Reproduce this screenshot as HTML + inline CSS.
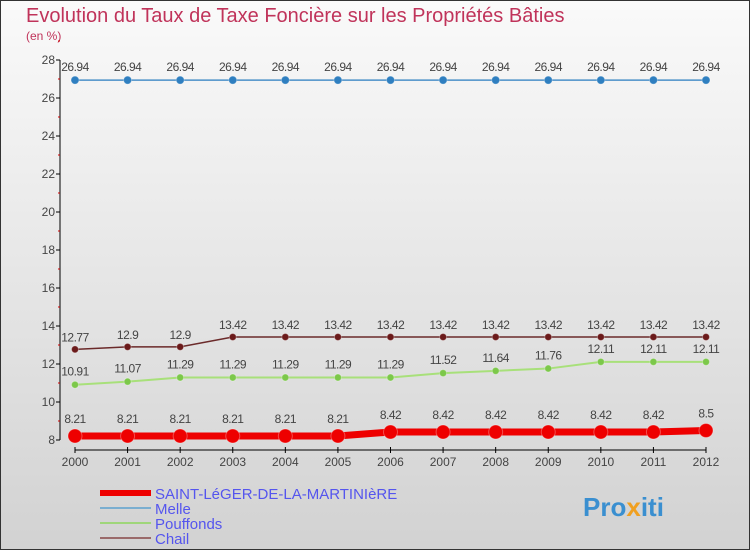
<!DOCTYPE html>
<html><head><meta charset="utf-8"><style>
body{margin:0}
#c{width:750px;height:550px;position:relative;overflow:hidden}
svg{font-family:"Liberation Sans",sans-serif}
</style></head><body>
<div id="c">
<svg id="s" width="750" height="550" xmlns="http://www.w3.org/2000/svg">
<defs><linearGradient id="bg" x1="0" y1="0" x2="0" y2="1"><stop offset="0" stop-color="#fafafa"/><stop offset="1" stop-color="#d2d2d2"/></linearGradient></defs>
<rect x="0.5" y="0.5" width="749" height="549" fill="url(#bg)" stroke="#333"/>
<text x="26" y="22" font-size="20" fill="#c0335a">Evolution du Taux de Taxe Foncière sur les Propriétés Bâties</text>
<text x="26" y="40" font-size="12" fill="#c0335a">(en %)</text>
<g id="axes"></g><g id="series"></g>
<g>
<line x1="100" y1="493" x2="151" y2="493" stroke="#e00" stroke-width="6"/>
<text x="155" y="499" font-size="15" fill="#5555ee">SAINT-LéGER-DE-LA-MARTINIèRE</text>
<line x1="100" y1="508" x2="151" y2="508" stroke="#7aaed0" stroke-width="2"/>
<text x="155" y="514" font-size="15" fill="#5555ee">Melle</text>
<line x1="100" y1="523" x2="151" y2="523" stroke="#9fd67a" stroke-width="2"/>
<text x="155" y="529" font-size="15" fill="#5555ee">Pouffonds</text>
<line x1="100" y1="538" x2="151" y2="538" stroke="#9a6a6a" stroke-width="2"/>
<text x="155" y="544" font-size="15" fill="#5555ee">Chail</text>
</g>
<text x="583" y="516" font-size="26" font-weight="bold" fill="#3a8fd0">Pro<tspan fill="#f0a020">x</tspan>iti</text>
</svg></div>
<script>
const years=[2000,2001,2002,2003,2004,2005,2006,2007,2008,2009,2010,2011,2012];
const yTicks=[8,10,12,14,16,18,20,22,24,26,28];
const saint=[8.21,8.21,8.21,8.21,8.21,8.21,8.42,8.42,8.42,8.42,8.42,8.42,8.5];
const melle=[26.94,26.94,26.94,26.94,26.94,26.94,26.94,26.94,26.94,26.94,26.94,26.94,26.94];
const pouffonds=[10.91,11.07,11.29,11.29,11.29,11.29,11.29,11.52,11.64,11.76,12.11,12.11,12.11];
const chail=[12.77,12.9,12.9,13.42,13.42,13.42,13.42,13.42,13.42,13.42,13.42,13.42,13.42];
const NS="http://www.w3.org/2000/svg";
const X=i=>75+i*(706-75)/(years.length-1);
const Y=v=>440-(v-8)*19;
function mk(t,a,p){const e=document.createElementNS(NS,t);for(const k in a)e.setAttribute(k,a[k]);p.appendChild(e);return e;}
const ax=document.getElementById('axes');
const ya=mk('line',{x1:60,y1:60,x2:60,y2:440,stroke:'#000'},ax);


yTicks.forEach(v=>{
 mk('line',{x1:56,y1:Y(v),x2:60,y2:Y(v),stroke:'#000'},ax);
 mk('line',{x1:58,y1:Y(v+1),x2:60,y2:Y(v+1),stroke:'#c00'},ax);
 const t=mk('text',{x:55,y:Y(v)+4,'font-size':12,fill:'#444','text-anchor':'end'},ax);t.textContent=v;
 
 
});
const xa=mk('line',{x1:75,y1:450,x2:706,y2:450,stroke:'#000'},ax);


years.forEach((y,i)=>{
 mk('line',{x1:X(i),y1:447,x2:X(i),y2:453,stroke:'#000'},ax);
 const t=mk('text',{x:X(i),y:466,'font-size':12,fill:'#444','text-anchor':'middle'},ax);t.textContent=y;
 
 
});
const sg=document.getElementById('series');
function series(name,data,color,w,r,dot,lab){
 const g=mk('g',{},sg);
 
 
 const p=mk('polyline',{points:data.map((v,i)=>X(i)+','+Y(v)).join(' '),fill:'none',stroke:color,'stroke-width':w},g);
 
 
 data.forEach((v,i)=>{
  const c=mk('circle',{cx:X(i),cy:Y(v),r:r,fill:dot,stroke:'#fff','stroke-opacity':0.3},g);
  
  
  const t=mk('text',{x:X(i),y:Y(v)-lab,'font-size':12,fill:'#444','text-anchor':'middle','letter-spacing':'-0.5'},g);t.textContent=v;
  
  
 });
}
series('melle',melle,'#4a90c8',1.5,4,'#2f7fc0',9);
series('chail',chail,'#6b2a2a',1.5,3.5,'#6b1a1a',8);
series('pouffonds',pouffonds,'#a8e07a',2,3.5,'#7cc84a',9);
series('saint-leger',saint,'#e00',7,7,'#e00',13);
</script>
</body></html>
